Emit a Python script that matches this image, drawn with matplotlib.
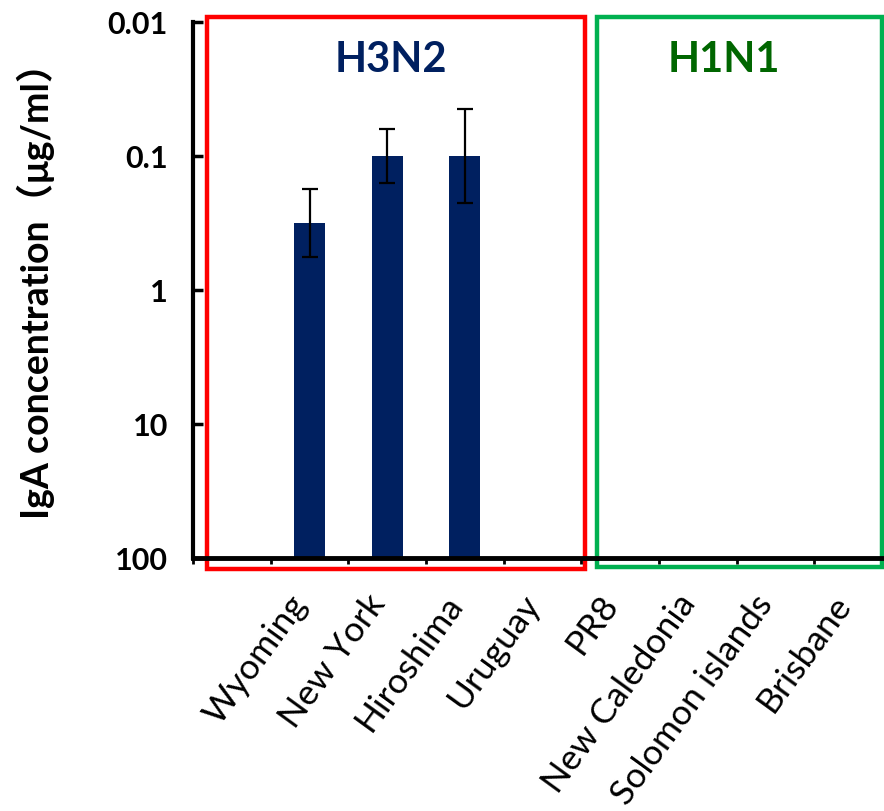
import numpy as np
import matplotlib
matplotlib.use("Agg")
import matplotlib.pyplot as plt
from matplotlib.patches import Rectangle
import matplotlib.transforms as mtransforms

# strains (first slot on the axis is left empty)
strains = ["Wyoming", "New York", "Hiroshima", "Uruguay",
           "PR8", "New Caledonia", "Solomon islands", "Brisbane"]
# IgA concentration (ug/ml), None = not detected
iga = [0.316, 0.1, 0.1, None, None, None, None, None]
err_low = [0.177, 0.063, 0.0446, None, None, None, None, None]
err_high = [0.564, 0.158, 0.224, None, None, None, None, None]

groups = ["H3N2", "H1N1"]
group_spans = [(-0.32, 4.55), (4.70, 8.37)]
group_edge = ["#ff0000", "#00b050"]
group_text = ["#002060", "#006600"]
group_text_x = [2.05, 6.33]

plt.rcParams['font.family'] = ['Lato', 'Noto Sans CJK JP', 'DejaVu Sans']

fig = plt.figure(figsize=(8.84, 8.11), dpi=100)
ax = fig.add_axes([193 / 884, 1 - 558 / 811, 699 / 884, 536 / 811])

x = np.arange(1, len(strains) + 1)
base = 100
for xi, v, lo, hi in zip(x, iga, err_low, err_high):
    if v is None:
        continue
    ax.bar(xi, v - base, bottom=base, width=0.4, color="#002060", zorder=2)
    ax.errorbar(xi, v, yerr=[[v - lo], [hi - v]], fmt="none", ecolor="black",
                elinewidth=1.6, capsize=5.5, capthick=1.6, zorder=3)

ax.set_yscale("log")
ax.set_ylim(100, 0.01)
ax.set_xlim(-0.5, len(strains) + 0.5)

ax.set_yticks([0.01, 0.1, 1, 10, 100])
ax.set_yticklabels(["0.01", "0.1", "1", "10", "100"], fontsize=22, fontweight="bold")
ax.yaxis.set_minor_locator(matplotlib.ticker.NullLocator())
ax.tick_params(axis="y", direction="in", length=7, width=2.5, pad=18)

ax.set_xticks(x)
ax.set_xticklabels(strains, rotation=54, ha="right", va="center",
                   rotation_mode="anchor", fontsize=25.5)
ax.tick_params(axis="x", which="major", length=0, pad=29)
ax.set_xticks(np.arange(-0.5, len(strains) + 1), minor=True)
ax.tick_params(axis="x", which="minor", direction="out", length=4, width=2)

# nudge the slanted labels a little to the left
shift = mtransforms.ScaledTranslation(-9 / 100, 0, fig.dpi_scale_trans)
for lbl in ax.get_xticklabels():
    lbl.set_transform(lbl.get_transform() + shift)

ax.set_ylabel("IgA concentration（μg/ml）", fontsize=27, fontweight="bold")
ax.yaxis.set_label_coords(-0.197, 0.515)

for side in ["top", "right"]:
    ax.spines[side].set_visible(False)
ax.spines["left"].set_linewidth(3)
ax.spines["bottom"].set_linewidth(3.5)
ax.spines["bottom"].set_zorder(5)

# group frames
trans = mtransforms.blended_transform_factory(ax.transData, ax.transAxes)
bottoms = [-0.0205, -0.016]
for (x0, x1), ec, b in zip(group_spans, group_edge, bottoms):
    rect = Rectangle((x0, b), x1 - x0, 1.009 - b, transform=trans, fill=False,
                     edgecolor=ec, linewidth=3.2, clip_on=False, zorder=1)
    ax.add_patch(rect)

for name, tx, col in zip(groups, group_text_x, group_text):
    ax.text(tx, 0.93, name, transform=trans, ha="center", va="center",
            fontsize=30, fontweight="bold", color=col)

fig.savefig("out.png", dpi=100)
